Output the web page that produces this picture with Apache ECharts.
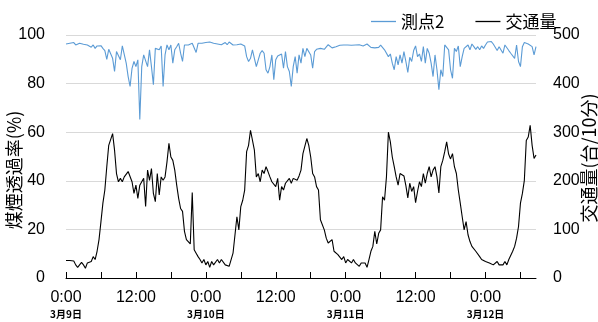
<!DOCTYPE html>
<html>
<head>
<meta charset="utf-8">
<script src="https://cdn.jsdelivr.net/npm/echarts@6/dist/echarts.min.js"></script>
<style>
  html, body { margin: 0; padding: 0; background: #fff; }
  #chart { width: 598px; height: 322px; }
</style>
</head>
<body>
<div id="chart"></div>
<script>
// 20-minute samples, 3/9 0:00 to 3/12 8:40
const days = ['3月9日', '3月10日', '3月11日', '3月12日'];
const stepMinutes = 20;

// Smoke transmittance at measuring point 2 (%)
const transmittance = [
  96.3, 95.5, 96.6,  95.9, 96.9, 95.9,  96.3, 96.6, 95.9,  96.2, 96.3, 95.9,
  96.3, 95.0, 95.9,  94.5, 95.5, 95.2,  95.6, 94.5, 93.6,  90.0, 94.1, 93.9,
  90.4, 85.0, 93.2,  92.5, 89.8, 95.5,  95.9, 88.4, 82.9,  78.8, 86.3, 89.1,
  87.0, 89.8, 65.2,  87.0, 91.8, 92.5,  87.0, 93.9, 87.0,  79.5, 94.5, 95.2,
  93.9, 95.5, 78.8,  91.8, 95.9, 93.9,  95.9, 88.4, 93.9,  95.2, 96.6, 92.5,
  89.1, 95.9, 96.3,  95.9, 96.3, 96.6,  96.3, 92.8, 96.6,  96.9, 96.6, 97.1,
  96.9, 96.3, 97.1,  97.4, 96.6, 96.9,  96.3, 95.9, 96.0,  96.6, 96.9, 96.0,
  97.1, 96.9, 95.9,  96.3, 96.0, 96.6,  96.3, 96.6, 95.5,  91.1, 89.1, 90.4,
  93.9, 90.4, 87.0,  89.8, 92.5, 93.6,  92.5, 85.7, 84.3,  87.0, 91.8, 81.6,
  89.8, 91.4, 90.8,  92.2, 86.3, 93.2,  87.0, 85.0, 78.8,  87.0, 91.1, 84.3,
  91.8, 88.4, 94.5,  91.1, 94.5, 94.9,  91.8, 86.3, 93.2,  94.1, 93.6, 94.5,
  94.5, 94.1, 94.9,  96.0, 95.5, 94.7,  95.5, 95.2, 95.8,  95.8, 95.5, 95.9,
  96.0, 95.9, 96.3,  95.8, 96.0, 95.9,  95.6, 96.0, 95.8,  95.5, 96.0, 96.3,
  95.5, 94.9, 95.2,  94.7, 94.3, 94.9,  95.8, 95.2, 93.9,  94.5, 91.1, 92.2,
  88.4, 85.7, 91.1,  87.7, 91.8, 88.4,  93.2, 89.1, 84.6,  90.8, 89.1, 93.6,
  95.5, 91.1, 92.2,  89.1, 95.2, 88.4,  94.5, 92.5, 88.4,  82.9, 91.8, 85.7,
  77.5, 85.7, 82.9,  95.9, 95.9, 93.9,  85.7, 82.2, 94.5,  93.2, 95.5, 87.0,
  91.1, 94.5, 94.5,  95.9, 93.9, 96.3,  95.2, 94.1, 95.2,  93.9, 95.5, 94.5,
  95.9, 97.1, 96.9,  97.3, 96.3, 95.5,  93.6, 95.2, 94.5,  92.5, 95.9, 96.3,
  93.6, 92.5, 93.2,  90.4, 95.9, 89.1,  87.0, 95.2, 96.9,  96.6, 96.3, 95.5,
  95.2, 91.8, 95.2
];

// Traffic volume (vehicles / 10 min)
const traffic = [
   36,  34,  36,   32,  35,  27,   22,  27,  32,   27,  20,  31,
   27,  34,  44,   38,  55,  79,  116, 154, 181,  229, 273, 277,
  297, 263, 215,  198, 205, 198,  208, 208, 219,  215, 198, 174,
  191, 164, 191,  198, 205, 147,  222, 201, 225,  174, 157, 215,
  171, 208, 201,  208, 239, 277,  249, 242, 222,  191, 164, 143,
  137,  96,  79,   82,  70, 176,   58,  51,  44,   38,  31,  38,
   27,  34,  22,   34,  27,  31,   38,  31,  38,   38,  27,  31,
   24,  27,  51,   55, 126,  99,  147, 160, 181,  260, 273, 304,
  300, 263, 208,  215, 198, 222,  215, 229, 219,  208, 198, 201,
  188, 205, 160,  188, 181, 195,  191, 205, 195,  205, 208, 201,
  210, 222, 256,  253, 287, 273,  249, 215, 208,  188, 181, 120,
  123,  99,  82,   72,  75,  79,   55,  51,  48,   44,  38,  44,
   31,  38,  34,   31,  38,  31,   34,  24,  31,   27,  31,  22,
   38,  55,  65,   96,  70,  92,   99, 167, 160,  208, 300, 280,
  249, 229, 208,  191, 215, 219,  210, 190, 165,  195, 178, 188,
  155, 178, 198,  188, 215, 195,  215, 229, 208,  222, 229, 208,
  175, 229, 242,  260, 280, 255,  245, 256, 229,  215, 181, 154,
  126,  99, 116,   89,  75,  65,   61,  55,  51,   44,  38,  41,
   34,  38,  31,   34,  27,  31,   34,  27,  31,   27,  34,  27,
   38,  41,  55,   65,  82, 106,  154, 174, 201,  283, 290, 314,
  273, 246, 253
];

// Time categories: "dayIndex|H:MM"
const times = [];
for (let i = 0; i < traffic.length; i++) {
  const m = i * stepMinutes;
  const d = Math.floor(m / 1440);
  const hh = Math.floor((m % 1440) / 60);
  const mm = m % 60;
  times.push(d + '|' + hh + ':' + String(mm).padStart(2, '0'));
}
const perHour = 60 / stepMinutes;

const latin = '"Liberation Sans", Arial, sans-serif';
const cjk = '"Noto Sans CJK JP", "Noto Sans", sans-serif';

const chart = echarts.init(document.getElementById('chart'), null, { renderer: 'canvas' });
chart.setOption({
  animation: false,
  backgroundColor: '#ffffff',
  grid: { left: 66, right: 62, top: 35, bottom: 43 },
  legend: {
    data: ['測点2', '交通量'],
    left: 366,
    top: 8,
    icon: 'rect',
    itemWidth: 25,
    itemHeight: 1.3,
    itemGap: 31,
    textStyle: { fontFamily: cjk, fontSize: 17, color: '#000' }
  },
  xAxis: {
    type: 'category',
    data: times,
    boundaryGap: false,
    axisLine: { lineStyle: { color: '#000', width: 1 } },
    axisTick: {
      inside: true,
      length: 6,
      lineStyle: { color: '#000' },
      interval: (i) => i % (6 * perHour) === 0
    },
    axisLabel: {
      interval: (i) => i % (12 * perHour) === 0,
      margin: 12,
      color: '#000',
      fontFamily: latin,
      fontSize: 16,
      lineHeight: 16,
      formatter: (v) => {
        const [d, t] = v.split('|');
        if (t === '0:00') return t + '\n{d|' + days[+d] + '}';
        return t;
      },
      rich: {
        d: { fontFamily: cjk, fontSize: 10, fontWeight: 'bold', lineHeight: 16, color: '#000' }
      }
    },
    splitLine: { show: false }
  },
  yAxis: [
    {
      type: 'value',
      min: 0, max: 100, interval: 20,
      axisLine: { show: false },
      axisTick: { show: false },
      axisLabel: { color: '#000', fontFamily: latin, fontSize: 16, margin: 21 },
      splitLine: { lineStyle: { color: '#d9d9d9', width: 1 } }
    },
    {
      type: 'value',
      min: 0, max: 500, interval: 100,
      axisLine: { show: false },
      axisTick: { show: false },
      axisLabel: { color: '#000', fontFamily: latin, fontSize: 16, margin: 17 },
      splitLine: { show: false }
    }
  ],
  series: [
    {
      name: '測点2',
      type: 'line',
      yAxisIndex: 0,
      data: transmittance,
      showSymbol: false,
      symbol: 'none',
      lineStyle: { color: '#5b9bd5', width: 1.1 },
      itemStyle: { color: '#5b9bd5' }
    },
    {
      name: '交通量',
      type: 'line',
      yAxisIndex: 1,
      data: traffic,
      showSymbol: false,
      symbol: 'none',
      lineStyle: { color: '#000', width: 1.1 },
      itemStyle: { color: '#000' }
    }
  ],
  graphic: [
    {
      type: 'text',
      x: 14, y: 170,
      rotation: Math.PI / 2,
      style: {
        text: '煤煙透過率(%)',
        fontFamily: cjk, fontSize: 18, fill: '#000',
        align: 'center', verticalAlign: 'middle'
      }
    },
    {
      type: 'text',
      x: 589, y: 158,
      rotation: Math.PI / 2,
      style: {
        text: '交通量(台/10分)',
        fontFamily: cjk, fontSize: 18, fill: '#000',
        align: 'center', verticalAlign: 'middle'
      }
    }
  ]
});
</script>
</body>
</html>
